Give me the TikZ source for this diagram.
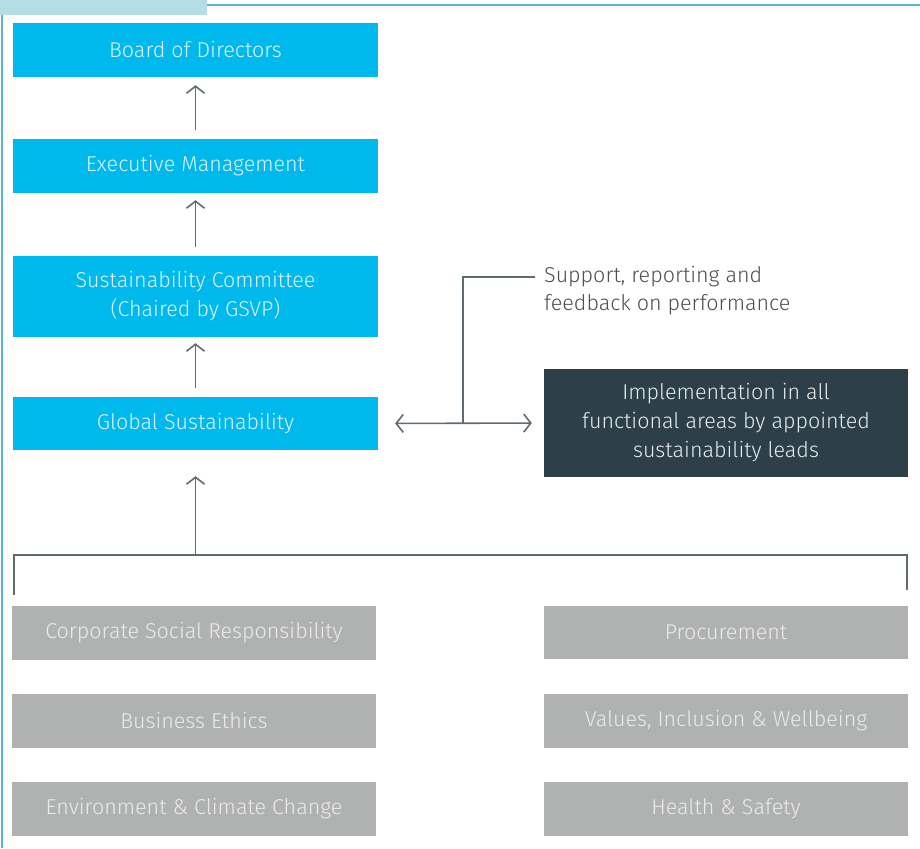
\documentclass[tikz,border=0pt]{standalone}
\usepackage{fontspec}
\setmainfont{Fira Sans Light}
\usetikzlibrary{arrows.meta}
\definecolor{bluebox}{HTML}{00B9EC}
\definecolor{bluetext}{HTML}{DDF3FB}
\definecolor{darkbox}{HTML}{2D3F49}
\definecolor{darktext}{HTML}{E6ECEF}
\definecolor{greybox}{HTML}{B0B1B1}
\definecolor{greytext}{HTML}{EBEBEB}
\definecolor{linec}{HTML}{5E6B73}
\definecolor{tabc}{HTML}{B5DDE8}
\definecolor{framec}{HTML}{5BB5CE}
\definecolor{suptext}{HTML}{4A4F53}
\begin{document}
\begin{tikzpicture}[x=1pt,y=-1pt,
  box/.style={rectangle,inner sep=0pt,minimum width=365pt,align=center,font=\fontsize{21.5}{29}\selectfont},
  bluenode/.style={box,fill=bluebox,text=bluetext},
  greynode/.style={box,fill=greybox,text=greytext,minimum width=364pt,minimum height=54pt},
  darknode/.style={box,fill=darkbox,text=darktext,minimum width=364pt,minimum height=108pt},
  arr/.style={draw=linec,line width=1.6pt,-{Straight Barb[length=7pt,width=18pt,line width=1.6pt]}},
  conn/.style={draw=linec,line width=1.6pt}]
\useasboundingbox (0,0) rectangle (920,848);
% frame
\fill[tabc] (0,0) rectangle (207,15);
\draw[framec,line width=2pt] (207,5) -- (920,5);
\draw[framec,line width=2pt] (1.5,15) -- (1.5,848);
% blue column
\node[bluenode,minimum height=54pt] (board) at (195.5,50) {Board of Directors};
\node[bluenode,minimum height=54pt] (exec) at (195.5,166) {Executive Management};
\node[bluenode,minimum height=81pt] (sc) at (195.5,296.5) {Sustainability Committee\\(Chaired by GSVP)};
\node[bluenode,minimum height=53pt] (glob) at (195.5,423.5) {Global Sustainability};
% dark box
\node[darknode] (impl) at (726,423) {Implementation in all\\functional areas by appointed\\sustainability leads};
% grey boxes
\node[greynode] (csr) at (194,633) {Corporate Social Responsibility};
\node[greynode] (eth) at (194,721) {Business Ethics};
\node[greynode] (env) at (194,809) {Environment \& Climate Change};
\node[greynode,minimum height=53pt] (proc) at (726,632) {Procurement};
\node[greynode] (val) at (726,721) {Values, Inclusion \& Wellbeing};
\node[greynode] (hs) at (726,809) {Health \& Safety};
% support text
\node[anchor=west,align=left,text=suptext,inner sep=0pt,font=\fontsize{21.5}{28}\selectfont] (sup) at (544,291) {Support, reporting and\\feedback on performance};
% vertical arrows
\draw[arr,shorten <=9pt,shorten >=8pt] (exec.north) -- (board.south);
\draw[arr,shorten <=9pt,shorten >=7pt] (sc.north) -- (exec.south);
\draw[arr,shorten <=9pt,shorten >=6pt] (glob.north) -- (sc.south);
% bracket
\coordinate (bl) at (14,595);
\coordinate (br) at (907,590);
\coordinate (bk) at (195.5,555);
\draw[conn] (bl) -- (14,555) -- (907,555) -- (br);
\draw[arr,shorten >=26pt] (bk) -- (glob.south);
% double arrow
\draw[conn,{Straight Barb[length=7pt,width=18pt,line width=1.6pt]}-{Straight Barb[length=7pt,width=18pt,line width=1.6pt]},shorten <=17pt,shorten >=12pt] (glob.east) -- (impl.west);
\coordinate (jn) at (463,424);
\draw[conn] (jn) |- ([xshift=-9pt]sup.west |- 0,277);
\end{tikzpicture}
\end{document}
